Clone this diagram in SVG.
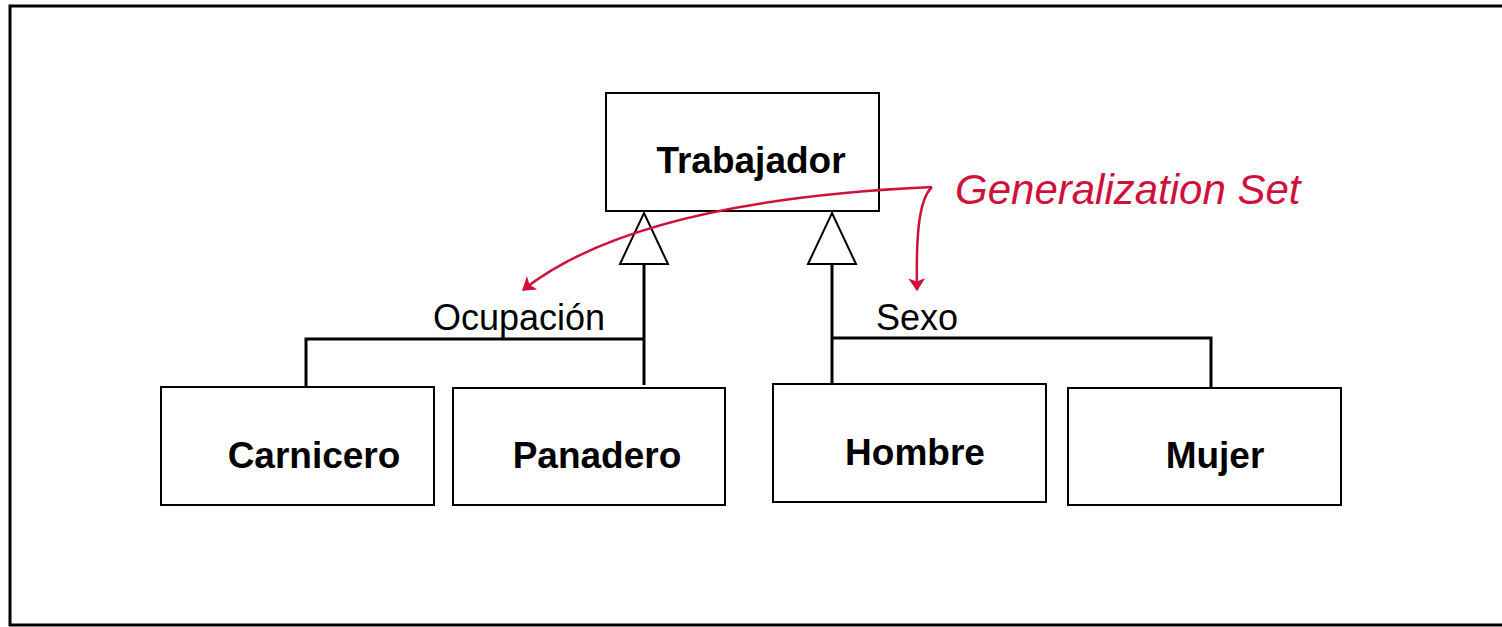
<svg xmlns="http://www.w3.org/2000/svg" width="1502" height="627" viewBox="0 0 1502 627">
<style>
.box{fill:#fff;stroke:#000;stroke-width:2}
.name{font-family:"Liberation Sans",Arial,sans-serif;font-weight:bold;font-size:37px;text-anchor:middle;fill:#000}
.lbl{font-family:"Liberation Sans",Arial,sans-serif;font-size:36px;fill:#000}
.ln{fill:none;stroke:#000;stroke-width:3}
.tri{fill:#fff;stroke:#000;stroke-width:2}
.red{fill:none;stroke:#d0103a;stroke-width:2.5}
</style>
<defs>
<marker id="ah" viewBox="0 0 12 16" refX="11" refY="8" markerWidth="13" markerHeight="17" markerUnits="userSpaceOnUse" orient="auto">
<path d="M0,0 L12,8 L0,16 L3,8 Z" fill="#d0103a"/>
</marker>
</defs>
<rect x="0" y="0" width="1502" height="627" fill="#fff"/>
<rect x="10" y="6" width="1500" height="619" fill="none" stroke="#000" stroke-width="3"/>
<g id="trabajador">
<rect class="box" x="606" y="93" width="273" height="118"/>
<text class="name" x="751" y="173">Trabajador</text>
</g>
<g id="connectors">
<polyline class="ln" points="306,387 306,339 644,339"/>
<line class="ln" x1="644" y1="264" x2="644" y2="385"/>
<line class="ln" x1="832" y1="264" x2="832" y2="385"/>
<polyline class="ln" points="832,338 1211,338 1211,388"/>
<polygon class="tri" points="644,213 668,264 620,264"/>
<polygon class="tri" points="832,213 856,264 808,264"/>
</g>
<g id="labels">
<text class="lbl" x="433" y="330">Ocupación</text>
<text class="lbl" x="876" y="330">Sexo</text>
</g>
<g id="carnicero">
<rect class="box" x="161" y="387" width="273" height="118"/>
<text class="name" x="314" y="468">Carnicero</text>
</g>
<g id="panadero">
<rect class="box" x="453" y="388" width="272" height="117"/>
<text class="name" x="597" y="468">Panadero</text>
</g>
<g id="hombre">
<rect class="box" x="773" y="384" width="273" height="118"/>
<text class="name" x="915" y="465">Hombre</text>
</g>
<g id="mujer">
<rect class="box" x="1068" y="388" width="273" height="117"/>
<text class="name" x="1215" y="468">Mujer</text>
</g>
<g id="generalization-set">
<path class="red" d="M932,187 C800,193 620,213 523,290" marker-end="url(#ah)"/>
<path class="red" d="M932,187 C918,200 916,240 917,290" marker-end="url(#ah)"/>
<text x="955" y="204" font-family="Liberation Sans,Arial,sans-serif" font-style="italic" font-size="42" fill="#d0103a">Generalization Set</text>
</g>
</svg>
